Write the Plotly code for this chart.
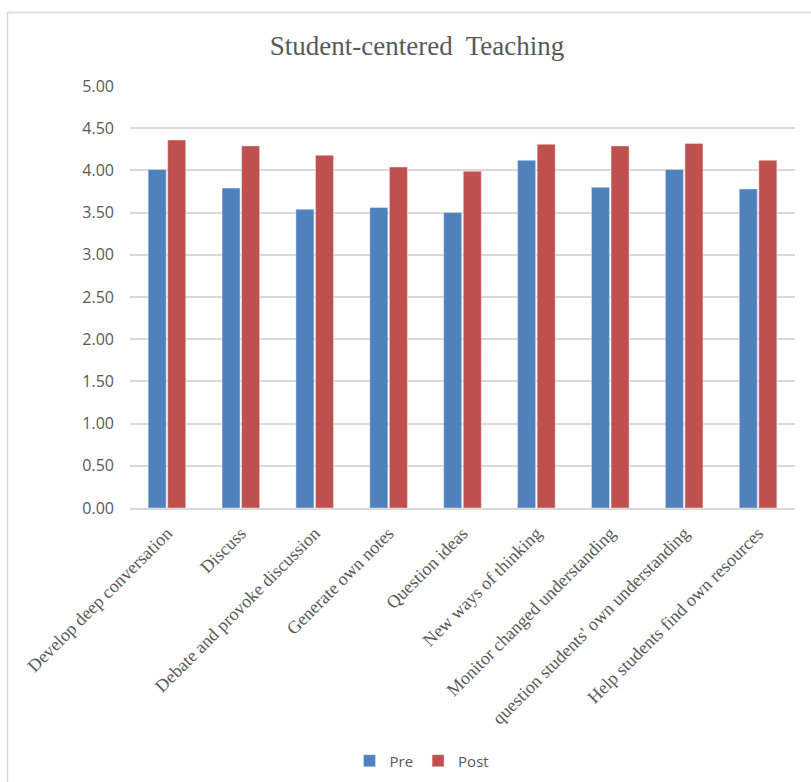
import plotly.graph_objects as go

categories = [
    "Develop deep conversation",
    "Discuss",
    "Debate and provoke discussion",
    "Generate own notes",
    "Question ideas",
    "New ways of thinking",
    "Monitor changed understanding",
    "question students' own understanding",
    "Help students find own resources",
]
pre_values = [4.01, 3.79, 3.54, 3.56, 3.50, 4.12, 3.80, 4.01, 3.78]
post_values = [4.36, 4.29, 4.18, 4.04, 3.99, 4.31, 4.29, 4.32, 4.12]
y_ticks = [0, 0.5, 1, 1.5, 2, 2.5, 3, 3.5, 4, 4.5, 5]

W, H = 811, 782
ML, MR, MT, MB = 130, 16, 86, 274
PW, PH = W - ML - MR, H - MT - MB

def px_x(x):
    return (x - ML) / PW

def px_y(y):
    return (H - MB - y) / PH

fig = go.Figure()
fig.add_trace(go.Bar(name="Pre", x=categories, y=pre_values, marker_color="#4f81bd"))
fig.add_trace(go.Bar(name="Post", x=categories, y=post_values, marker_color="#c0504d"))

fig.update_layout(
    width=W, height=H,
    margin=dict(l=ML, r=MR, t=MT, b=MB, autoexpand=False),
    paper_bgcolor="white", plot_bgcolor="white",
    barmode="group", bargap=0.47, bargroupgap=0.08,
    title=dict(text="Student-centered  Teaching", x=px_x(417), xref="paper", xanchor="center",
               y=1 - 46 / H, yanchor="middle",
               font=dict(family="Liberation Serif", size=27, color="#595959")),
    showlegend=True,
    legend=dict(orientation="h", x=px_x(422), xanchor="center",
                yref="container", y=1 - 761 / H, yanchor="middle",
                font=dict(family="Open Sans", size=15, color="#595959"),
                itemwidth=30, traceorder="normal"),
    xaxis=dict(tickangle=-45, tickfont=dict(family="Liberation Serif", size=18, color="#595959"),
               showline=True, linecolor="#d9d9d9", linewidth=1.5, ticks="", showgrid=False,
               automargin=False, ticklabelstandoff=6),
    yaxis=dict(range=[0, 5], tickvals=y_ticks, ticktext=[f"{v:.2f}" for v in y_ticks],
               tickfont=dict(family="Open Sans", size=16, color="#595959"),
               showgrid=True, gridcolor="#d9d9d9", gridwidth=1.5, zeroline=False,
               showline=False, ticks="", ticklabelstandoff=15, automargin=False),
    shapes=[dict(type="rect", xref="paper", yref="paper",
                 x0=px_x(7.5), x1=px_x(830), y0=px_y(800), y1=px_y(12.5),
                 line=dict(color="#d9d9d9", width=1.5), fillcolor="rgba(0,0,0,0)", layer="below")],
)

fig.write_html("out.html")
